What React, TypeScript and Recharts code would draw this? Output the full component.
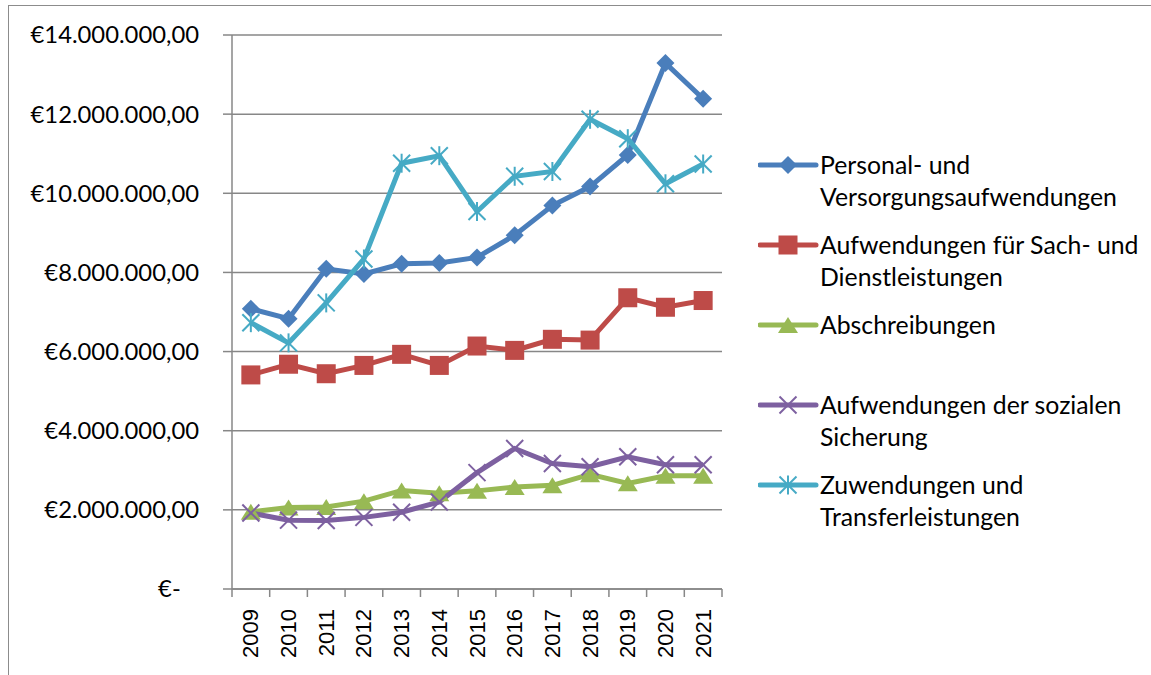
import React from "react";
import { CartesianGrid, Legend, Line, LineChart, XAxis, YAxis } from "recharts";

const years = ["2009", "2010", "2011", "2012", "2013", "2014", "2015", "2016", "2017", "2018", "2019", "2020", "2021"];
const personal = [7080000, 6830000, 8090000, 7960000, 8220000, 8240000, 8380000, 8940000, 9690000, 10170000, 10970000, 13290000, 12390000];
const sach = [5410000, 5680000, 5440000, 5650000, 5930000, 5650000, 6140000, 6030000, 6310000, 6290000, 7360000, 7120000, 7290000];
const abschreibungen = [1950000, 2060000, 2070000, 2220000, 2490000, 2420000, 2480000, 2580000, 2620000, 2900000, 2670000, 2860000, 2860000];
const sozial = [1920000, 1740000, 1730000, 1810000, 1940000, 2200000, 2940000, 3550000, 3170000, 3090000, 3340000, 3140000, 3140000];
const zuwendungen = [6730000, 6220000, 7230000, 8340000, 10760000, 10950000, 9540000, 10430000, 10550000, 11870000, 11380000, 10240000, 10740000];
const yTicks = [0, 2000000, 4000000, 6000000, 8000000, 10000000, 12000000, 14000000];

const series = [
  { key: "personal", name: "Personal- und Versorgungsaufwendungen", color: "#4A7EBB", marker: "diamond" },
  { key: "sach", name: "Aufwendungen für Sach- und Dienstleistungen", color: "#BE4B48", marker: "square" },
  { key: "abschreibungen", name: "Abschreibungen", color: "#98B954", marker: "triangle" },
  { key: "sozial", name: "Aufwendungen der sozialen Sicherung", color: "#7D60A0", marker: "x" },
  { key: "zuwendungen", name: "Zuwendungen und Transferleistungen", color: "#46AAC5", marker: "star" },
];

const data = years.map((year, i) => ({
  year,
  personal: personal[i],
  sach: sach[i],
  abschreibungen: abschreibungen[i],
  sozial: sozial[i],
  zuwendungen: zuwendungen[i],
}));

const AXIS = "#878787";
const PLOT_W = 490;
const BAND = PLOT_W / years.length;

function fmtEuro(v: number) {
  if (v === 0) return "€-\u00A0\u00A0\u00A0";
  const s = Math.round(v).toString().replace(/\B(?=(\d{3})+(?!\d))/g, ".");
  return "€" + s + ",00";
}

function Marker({ type, color, cx, cy }: { type: string; color: string; cx: number; cy: number }) {
  if (type === "diamond")
    return <polygon points={`${cx},${cy - 9} ${cx + 9},${cy} ${cx},${cy + 9} ${cx - 9},${cy}`} fill={color} />;
  if (type === "square") return <rect x={cx - 9.5} y={cy - 9.5} width={19} height={19} fill={color} />;
  if (type === "triangle")
    return <polygon points={`${cx},${cy - 8} ${cx + 10},${cy + 8} ${cx - 10},${cy + 8}`} fill={color} />;
  const d = 8.5;
  return (
    <g stroke={color} strokeWidth={2}>
      <line x1={cx - d} y1={cy - d} x2={cx + d} y2={cy + d} />
      <line x1={cx - d} y1={cy + d} x2={cx + d} y2={cy - d} />
      {type === "star" && <line x1={cx} y1={cy - d - 1} x2={cx} y2={cy + d + 1} />}
    </g>
  );
}

const makeDot = (type: string, color: string) => (props: any) => {
  const { cx, cy, index } = props;
  if (cx == null || cy == null) return <g key={index} />;
  return <Marker key={index} type={type} color={color} cx={cx} cy={cy} />;
};

function YearTick(props: any) {
  const { x, y, payload, index } = props;
  const half = BAND / 2;
  return (
    <g>
      <line x1={x - half} x2={x - half} y1={y} y2={y + 8} stroke={AXIS} strokeWidth={1.5} />
      {index === years.length - 1 && <line x1={x + half} x2={x + half} y1={y} y2={y + 8} stroke={AXIS} strokeWidth={1.5} />}
      <text
        transform={`translate(${x},${y + 20}) rotate(-90)`}
        textAnchor="end"
        dominantBaseline="central"
        fontSize={22}
        fontFamily="Liberation Sans"
        fill="#000"
      >
        {payload.value}
      </text>
    </g>
  );
}

function LegendBox() {
  return (
    <div style={{ fontFamily: "Lato", fontSize: 24.8, color: "#000" }}>
      {series.map((s) => (
        <div key={s.key} style={{ display: "flex", height: 80, alignItems: "flex-start" }}>
          <svg width={62} height={32} style={{ flex: "none" }}>
            <line x1={2} x2={58} y1={16} y2={16} stroke={s.color} strokeWidth={5} strokeLinecap="round" />
            <Marker type={s.marker} color={s.color} cx={30} cy={16} />
          </svg>
          <div style={{ lineHeight: "32px", width: 328, textAlign: "left" }}>{s.name}</div>
        </div>
      ))}
    </div>
  );
}

export default function App() {
  return (
    <div style={{ position: "fixed", left: 0, top: 0, width: 1151, height: 675, overflow: "hidden", background: "#fff" }}>
      <div style={{ position: "absolute", left: 8, top: 5, width: 1200, height: 720, border: "1.5px solid #8c8c8c" }} />
      <div style={{ position: "absolute", left: 0, top: 0 }}>
        <LineChart width={1151} height={675} data={data} margin={{ top: 35, right: 429, bottom: 0, left: 0 }}>
          <CartesianGrid vertical={false} stroke={AXIS} strokeWidth={1.5} />
          <XAxis
            dataKey="year"
            padding={{ left: BAND / 2, right: BAND / 2 }}
            height={86}
            interval={0}
            tickLine={false}
            tickSize={0}
            tickMargin={0}
            axisLine={{ stroke: AXIS, strokeWidth: 1.5 }}
            tick={<YearTick />}
          />
          <YAxis
            domain={[0, 14000000]}
            ticks={yTicks}
            width={232}
            tickSize={9}
            tickMargin={24}
            tickFormatter={fmtEuro}
            axisLine={{ stroke: AXIS, strokeWidth: 1.5 }}
            tickLine={{ stroke: AXIS, strokeWidth: 1.5 }}
            tick={{ fill: "#000", fontSize: 23.8, fontFamily: "Lato" }}
          />
          <Legend
            layout="horizontal"
            align="center"
            verticalAlign="middle"
            content={() => <LegendBox />}
            wrapperStyle={{ position: "absolute", left: 758, top: 149, width: 393, height: 420 }}
          />
          {series.map((s) => (
            <Line
              key={s.key}
              type="linear"
              dataKey={s.key}
              name={s.name}
              stroke={s.color}
              strokeWidth={5}
              dot={makeDot(s.marker, s.color)}
              activeDot={false}
              isAnimationActive={false}
            />
          ))}
        </LineChart>
      </div>
    </div>
  );
}
